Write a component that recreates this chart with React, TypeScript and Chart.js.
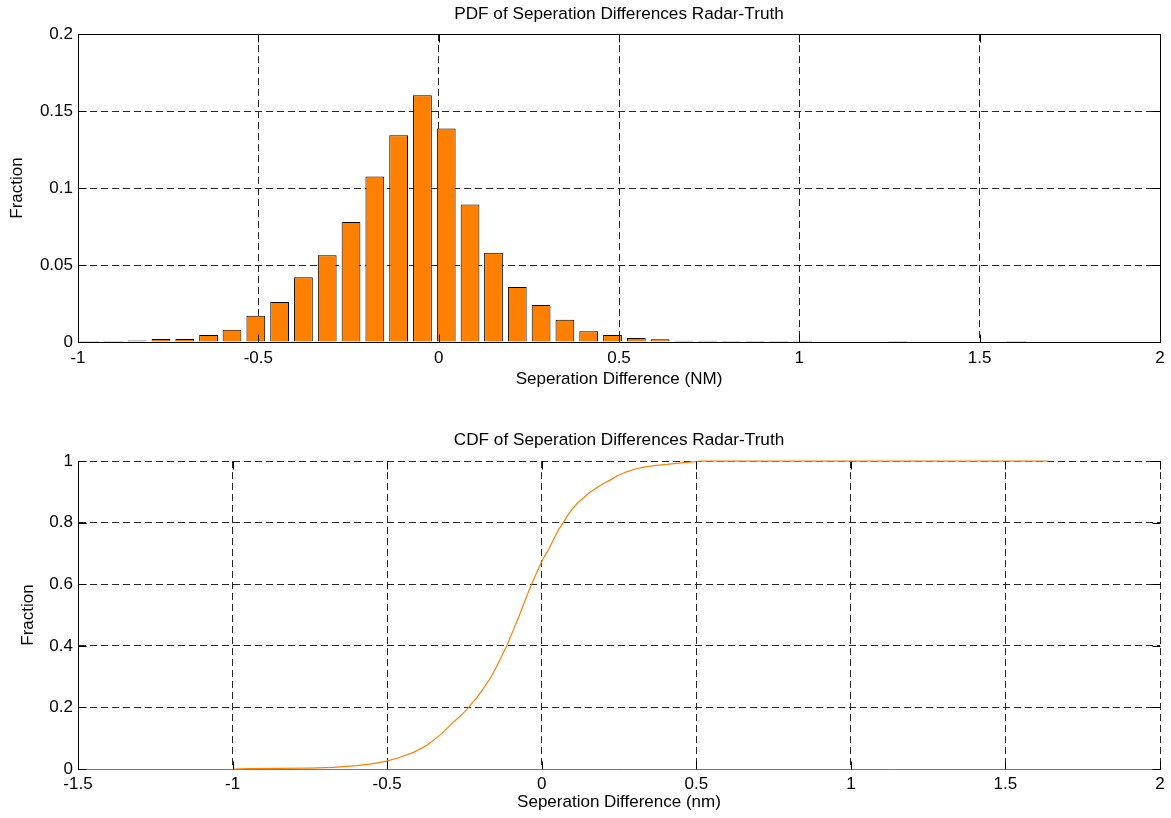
import React, { useEffect, useRef } from "react";
import { Chart, registerables } from "chart.js";

Chart.register(...registerables);

// ---------- data ----------
const pdfTitle = "PDF of Seperation Differences Radar-Truth";
const cdfTitle = "CDF of Seperation Differences Radar-Truth";
const pdfXLabel = "Seperation Difference (NM)";
const cdfXLabel = "Seperation Difference (nm)";
const yLabel = "Fraction";

// histogram bin centres (NM)
const pdfBinCenters = [
  -0.968, -0.902, -0.836, -0.770, -0.704, -0.638, -0.573, -0.507, -0.441, -0.375,
  -0.309, -0.243, -0.177, -0.111, -0.045, 0.021, 0.087, 0.152, 0.218, 0.284,
  0.350, 0.416, 0.482, 0.548, 0.614, 0.680, 0.746, 0.811, 0.877, 0.943,
  1.009, 1.075, 1.141, 1.207, 1.273, 1.339, 1.404, 1.470, 1.536, 1.602,
];
// fraction in each bin
const pdfFractions = [
  0.0007, 0.0006, 0.001, 0.002, 0.002, 0.0046, 0.008, 0.017, 0.026, 0.042,
  0.0563, 0.078, 0.1075, 0.1343, 0.1603, 0.1387, 0.0893, 0.058, 0.0358, 0.024,
  0.0144, 0.007, 0.0046, 0.0026, 0.0018, 0.0008, 0.0008, 0.0007, 0.0007, 0.0007,
  0.0008, 0, 0, 0, 0.0007, 0, 0, 0, 0, 0.0007,
];

const cdfX = [
  -1.0, -0.95, -0.85, -0.75, -0.674, -0.6, -0.556, -0.504, -0.458, -0.415,
  -0.372, -0.324, -0.286, -0.26, -0.237, -0.21, -0.189, -0.165, -0.146, -0.13,
  -0.113, -0.092, -0.07, -0.049, -0.022, 0.0, 0.01, 0.022, 0.043, 0.055,
  0.07, 0.085, 0.102, 0.118, 0.135, 0.155, 0.178, 0.2, 0.221, 0.245,
  0.275, 0.305, 0.34, 0.37, 0.405, 0.45, 0.498, 0.512, 1.637,
];
const cdfY = [
  0.0, 0.001, 0.002, 0.003, 0.005, 0.011, 0.016, 0.025, 0.038, 0.054,
  0.076, 0.114, 0.152, 0.175, 0.199, 0.232, 0.261, 0.297, 0.332, 0.365,
  0.4, 0.451, 0.505, 0.56, 0.625, 0.674, 0.692, 0.712, 0.755, 0.778,
  0.801, 0.825, 0.848, 0.866, 0.88, 0.898, 0.913, 0.927, 0.938, 0.952,
  0.965, 0.975, 0.982, 0.986, 0.989, 0.994, 0.998, 1.0, 1.0,
];

// axis ranges / tick steps
const pdfXRange = [-1, 2];
const pdfYRange = [0, 0.2];
const cdfXRange = [-1.5, 2];
const cdfYRange = [0, 1];
const xStep = 0.5;
const pdfYStep = 0.05;
const cdfYStep = 0.2;

// ---------- styling ----------
const FAMILY = "'Liberation Sans', Arial, Helvetica, sans-serif";
const font = { family: FAMILY, size: 17 };
const titleFont = { family: FAMILY, size: 17.2, weight: "normal" };
const ORANGE = "#FF8000";
const GRID = "#262626";
const DASH = [7, 4];

const fmt = (v: any) => String(Math.round(Number(v) * 1000) / 1000);

function framePlugin(fullBox: boolean) {
  return {
    id: "frameTicks",
    afterDraw(chart: any) {
      const { ctx, chartArea: a, scales } = chart;
      const L = Math.round(a.left) + 0.5;
      const R = Math.round(a.right) + 0.5;
      const T = Math.round(a.top) + 0.5;
      const B = Math.round(a.bottom) + 0.5;
      ctx.save();
      ctx.strokeStyle = "#000";
      ctx.lineWidth = 1;
      ctx.setLineDash([]);
      if (fullBox) {
        ctx.strokeRect(L, T, R - L, B - T);
      }
      const tl = 8;
      ctx.beginPath();
      scales.x.ticks.forEach((t: any) => {
        const px = Math.round(scales.x.getPixelForValue(t.value)) + 0.5;
        ctx.moveTo(px, B);
        ctx.lineTo(px, B - tl);
        ctx.moveTo(px, T);
        ctx.lineTo(px, T + tl);
      });
      scales.y.ticks.forEach((t: any) => {
        const py = Math.round(scales.y.getPixelForValue(t.value)) + 0.5;
        ctx.moveTo(L, py);
        ctx.lineTo(L + tl, py);
        ctx.moveTo(R, py);
        ctx.lineTo(R - tl, py);
      });
      ctx.stroke();
      ctx.restore();
    },
  };
}

function axisBase(
  range: number[],
  step: number,
  pad: number,
  borderColor: string
) {
  return {
    type: "linear" as const,
    min: range[0],
    max: range[1],
    offset: false,
    ticks: {
      stepSize: step,
      padding: pad,
      color: "#000",
      font,
      callback: fmt,
      maxRotation: 0,
      autoSkip: false,
    },
    grid: { color: GRID, lineWidth: 1, drawTicks: false, offset: false },
    border: { display: true, color: borderColor, width: 1, dash: DASH },
  };
}

function PdfChart() {
  const ref = useRef<HTMLCanvasElement | null>(null);
  useEffect(() => {
    if (!ref.current) return;
    const chart = new Chart(ref.current, {
      type: "bar",
      data: {
        datasets: [
          {
            data: pdfBinCenters.map((x, i) => ({ x, y: pdfFractions[i] })),
            backgroundColor: ORANGE,
            borderColor: "#000",
            borderWidth: 1,
            barPercentage: 0.8,
            categoryPercentage: 1,
          },
        ],
      },
      options: {
        animation: false,
        responsive: false,
        devicePixelRatio: 1,
        layout: { padding: { left: 0, right: 11, top: 0, bottom: 0 } },
        plugins: {
          legend: { display: false },
          tooltip: { enabled: false },
          title: {
            display: true,
            fullSize: false,
            text: pdfTitle,
            color: "#000",
            font: titleFont,
            padding: { top: 4.3, bottom: 9.1 },
          },
        },
        scales: {
          x: {
            ...axisBase(pdfXRange, xStep, 6, "#000"),
            title: {
              display: true,
              text: pdfXLabel,
              color: "#000",
              font,
              padding: { top: 0, bottom: 10 },
            },
            afterFit: (s: any) => {
              s.height = 58;
            },
          },
          y: {
            ...axisBase(pdfYRange, pdfYStep, 5, "#000"),
            title: {
              display: true,
              text: yLabel,
              color: "#000",
              font,
              padding: { top: 7.3, bottom: 0 },
            },
            afterFit: (s: any) => {
              s.width = 78;
            },
          },
        },
      } as any,
      plugins: [framePlugin(true)],
    });
    return () => chart.destroy();
  }, []);
  return <canvas ref={ref} width={1171} height={400} style={{ display: "block" }} />;
}

function CdfChart() {
  const ref = useRef<HTMLCanvasElement | null>(null);
  useEffect(() => {
    if (!ref.current) return;
    const chart = new Chart(ref.current, {
      type: "line",
      data: {
        datasets: [
          {
            data: cdfX.map((x, i) => ({ x, y: cdfY[i] })),
            borderColor: ORANGE,
            borderWidth: 1.2,
            pointRadius: 0,
            tension: 0,
            fill: false,
            clip: false,
          },
        ],
      },
      options: {
        animation: false,
        responsive: false,
        devicePixelRatio: 1,
        layout: { padding: { left: 0, right: 11, top: 0, bottom: 0 } },
        plugins: {
          legend: { display: false },
          tooltip: { enabled: false },
          title: {
            display: true,
            fullSize: false,
            text: cdfTitle,
            color: "#000",
            font: titleFont,
            padding: { top: 9.8, bottom: 10.6 },
          },
        },
        scales: {
          x: {
            ...axisBase(cdfXRange, xStep, 5, "#777"),
            title: {
              display: true,
              text: cdfXLabel,
              color: "#000",
              font,
              padding: { top: 0, bottom: 5 },
            },
            afterFit: (s: any) => {
              s.height = 49;
            },
          },
          y: {
            ...axisBase(cdfYRange, cdfYStep, 5, "#000"),
            title: {
              display: true,
              text: yLabel,
              color: "#000",
              font,
              padding: { top: 18, bottom: 0 },
            },
            afterFit: (s: any) => {
              s.width = 78;
            },
          },
        },
      } as any,
      plugins: [framePlugin(false)],
    });
    return () => chart.destroy();
  }, []);
  return <canvas ref={ref} width={1171} height={398} style={{ display: "block" }} />;
}

export default function App() {
  return (
    <div
      style={{
        position: "fixed",
        left: 0,
        top: 0,
        width: 1171,
        height: 818,
        background: "#fff",
        overflow: "hidden",
      }}
    >
      <div style={{ position: "absolute", left: 0, top: 0 }}>
        <PdfChart />
      </div>
      <div style={{ position: "absolute", left: 0, top: 420 }}>
        <CdfChart />
      </div>
    </div>
  );
}
